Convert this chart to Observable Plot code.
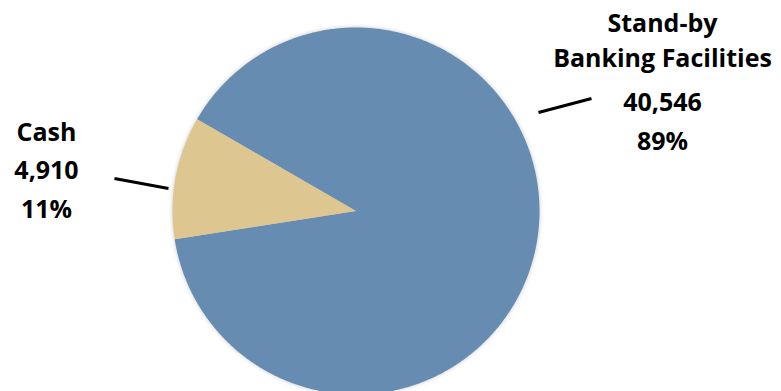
<!DOCTYPE html>
<html><head><meta charset="utf-8">
<script src="https://cdn.jsdelivr.net/npm/d3@7"></script>
<script src="https://cdn.jsdelivr.net/npm/@observablehq/plot@0.6"></script>
<style>
body{margin:0;background:#fff}
#chart svg g[aria-label="line"]{filter:drop-shadow(0 0 2px rgba(0,0,0,0.22))}
#chart svg text{font-variant-ligatures:none}
</style>
</head><body><div id="chart"></div>
<script>
// ---- data ----
const categories = ["Stand-by Banking Facilities", "Cash"];
const nameLines = [["Stand-by", "Banking Facilities"], ["Cash"]];
const values = [40546, 4910];
const colors = ["#668cb2", "#dec691"];

// ---- layout (pixels) ----
const W = 781, H = 391, CX = 355.5, CY = 210.5, R = 183.5;
const START = 300 * Math.PI / 180;
const labelLayout = [
  {x: 662, baselines: [31, 66, 110, 149], leader: [[538, 112], [591, 98]]},
  {x: 46, baselines: [140, 178, 217], leader: [[168, 188], [114, 178]]}
];
const px = v => (v - CX) / R;
const py = v => (CY - v) / R;

const total = d3.sum(values);
const arcs = d3.pie().sort(null).startAngle(START).endAngle(START + 2 * Math.PI)(values);
const slicePts = [];
arcs.forEach((a, i) => {
  slicePts.push({cat: categories[i], x: 0, y: 0});
  const n = Math.ceil((a.endAngle - a.startAngle) / (Math.PI / 360));
  for (let k = 0; k <= n; k++) {
    const t = a.startAngle + (a.endAngle - a.startAngle) * k / n;
    slicePts.push({cat: categories[i], x: Math.sin(t), y: Math.cos(t)});
  }
});

const textRows = [];
const leaders = [];
categories.forEach((c, i) => {
  const lines = [...nameLines[i], d3.format(",")(values[i]), d3.format(".0%")(values[i] / total)];
  const L = labelLayout[i];
  lines.forEach((s, j) => textRows.push({text: s, x: px(L.x), y: py(L.baselines[j])}));
  leaders.push({x1: px(L.leader[0][0]), y1: py(L.leader[0][1]), x2: px(L.leader[1][0]), y2: py(L.leader[1][1])});
});

const chart = Plot.plot({
  width: W, height: H,
  marginTop: 0, marginRight: 0, marginBottom: 0, marginLeft: 0,
  x: {domain: [-1, 1], range: [CX - R, CX + R], axis: null},
  y: {domain: [-1, 1], range: [CY + R, CY - R], axis: null},
  color: {domain: categories, range: colors},
  style: {background: "#fff"},
  marks: [
    Plot.line(slicePts, {x: "x", y: "y", z: "cat", fill: "cat", stroke: "none", curve: "linear-closed"}),
    Plot.link(leaders, {x1: "x1", y1: "y1", x2: "x2", y2: "y2", stroke: "#000", strokeWidth: 3}),
    Plot.text(textRows, {x: "x", y: "y", text: "text", textAnchor: "middle", lineAnchor: "bottom",
      fontFamily: "Open Sans", fontWeight: 700, fontSize: 25, fill: "#000"})
  ]
});
document.getElementById("chart").append(chart);
</script>
</body></html>
